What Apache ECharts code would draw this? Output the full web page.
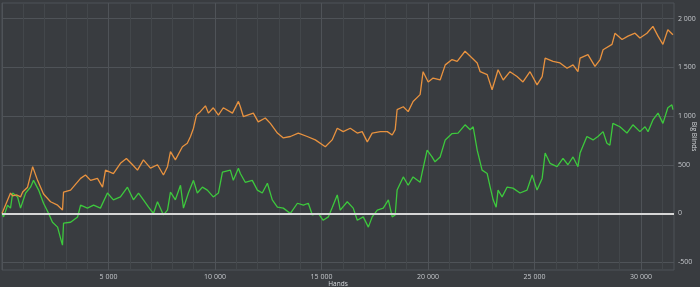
<!DOCTYPE html>
<html>
<head>
<meta charset="utf-8">
<script src="https://cdn.jsdelivr.net/npm/echarts@6/dist/echarts.min.js"></script>
<style>
html,body{margin:0;padding:0;background:#393c40;}
#c{width:700px;height:287px;}
</style>
</head>
<body>
<div id="c"></div>
<script>
// Orange series (hands, big blinds)
const orangeHands = [0,400,500,700,870,970,1200,1440,1670,1950,2280,2610,2840,2890,3220,3690,3920,4160,4480,4720,4860,5230,5560,5840,6130,6360,6640,6970,7300,7580,7770,7910,8140,8470,8700,8850,8990,9130,9310,9550,9690,9920,10160,10390,10820,11100,11190,11330,11800,12030,12360,12600,12930,13210,13540,13910,14330,14710,15180,15500,15740,16020,16350,16680,16910,17150,17380,17760,18090,18320,18460,18550,18840,19070,19300,19630,19770,20010,20240,20570,20810,21130,21370,21740,22070,22310,22450,22780,23010,23290,23530,23850,24180,24460,24790,25120,25360,25500,25870,26200,26530,26810,27040,27140,27510,27840,28080,28220,28640,28780,29110,29390,29720,29950,30280,30560,30800,31030,31260,31500];
const orangeBB = [0,210,180,190,170,220,270,480,340,200,120,85,35,220,240,360,395,340,360,270,445,410,515,565,500,445,550,465,500,395,480,635,550,685,720,790,875,1010,1045,1105,1030,1085,1010,1085,1030,1150,1095,995,1030,940,980,925,825,775,790,825,790,755,685,755,875,840,875,825,840,735,825,840,840,805,860,1065,1095,1045,1150,1220,1455,1350,1390,1370,1525,1580,1560,1665,1595,1545,1455,1425,1270,1475,1370,1455,1405,1350,1455,1320,1405,1595,1560,1545,1490,1525,1455,1595,1630,1510,1580,1680,1735,1850,1785,1820,1850,1800,1850,1920,1820,1735,1885,1835];

// Green series (hands, big blinds)
const greenHands = [0,75,260,400,500,730,870,1110,1340,1480,1720,1950,2190,2370,2610,2750,2840,2890,3220,3550,3690,4010,4300,4620,4950,5230,5560,5890,6170,6410,6640,6880,7110,7300,7580,7770,7910,8140,8380,8520,8750,8990,9170,9410,9640,9920,10160,10350,10720,10860,11100,11190,11420,11750,11990,12220,12460,12690,12930,13210,13540,13870,14150,14380,14570,14850,15080,15320,15510,15740,15880,16210,16490,16680,16960,17200,17380,17620,17900,18140,18320,18460,18550,18840,19070,19300,19630,19730,19960,20190,20330,20570,20810,21130,21410,21740,21980,22120,22310,22540,22780,22920,23060,23200,23290,23480,23710,23990,24320,24650,24890,25120,25360,25500,25730,26060,26340,26570,26810,27040,27140,27460,27750,27980,28220,28400,28540,28680,29010,29340,29620,29950,30190,30330,30560,30800,31030,31260,31450,31500];
const greenBB = [0,-35,85,55,210,170,55,210,270,340,240,105,0,-90,-140,-255,-325,-100,-90,-35,85,55,85,55,210,140,170,270,140,210,140,65,0,120,-15,35,220,140,290,55,210,340,210,270,240,170,210,425,445,340,465,410,320,340,240,210,310,140,65,55,0,105,85,105,-15,0,-70,-35,65,190,35,120,55,-70,-35,-140,-35,35,55,140,-35,-15,240,375,290,375,320,425,650,580,530,580,755,820,825,910,860,890,650,445,410,270,140,65,240,170,270,260,210,240,395,240,360,620,515,480,565,500,580,480,620,790,755,790,840,720,700,925,890,825,910,840,890,840,960,1030,925,1085,1115,1065];

// Axis settings
const xMin = 0, xMax = 31550, xStep = 1000, xLabelStep = 5000;
const yMin = -580, yMax = 2160, yStep = 20, yLabelStep = 500, yMinorStep = 250;

const MAJOR = '#4f5358', MINOR = '#43474b', NONE = 'rgba(0,0,0,0)';

function fmt(v){
  const s = String(Math.abs(v));
  const t = s.length > 3 ? s.slice(0, s.length-3) + ' ' + s.slice(s.length-3) : s;
  return (v < 0 ? '-' : '') + t;
}

const xColors = [];
for (let v = xMin; v <= xMax; v += xStep) xColors.push(v % xLabelStep === 0 ? MAJOR : MINOR);
xColors.push(MINOR);

const yColors = [];
for (let v = yMin; v <= yMax; v += yStep) {
  if (v % yLabelStep === 0) yColors.push(MAJOR);
  else if (v % yMinorStep === 0) yColors.push(MINOR);
  else yColors.push(NONE);
}

const chart = echarts.init(document.getElementById('c'), null, {renderer:'canvas'});
const textStyle = {color:'#c4c7cb', fontSize:7, fontFamily:'Open Sans'};
chart.setOption({
  backgroundColor:'#393c40',
  animation:false,
  grid:{left:2, right:26, top:3, bottom:17, show:true, borderColor:'#4f5358', borderWidth:1,
    backgroundColor:'transparent', containLabel:false, outerBoundsMode:'none'},
  xAxis:{
    type:'value', min:xMin, max:xMax, interval:xStep,
    name:'Hands', nameLocation:'middle', nameGap:14, nameMoveOverlap:false,
    nameTextStyle:Object.assign({}, textStyle, {fontSize:6.5, color:'#d6d9dc', verticalAlign:'middle', align:'center'}),
    axisLine:{show:false}, axisTick:{show:false},
    axisLabel:Object.assign({}, textStyle, {margin:3, showMaxLabel:false, showMinLabel:false,
      formatter:v => (v % xLabelStep === 0 && v > 0) ? fmt(v) : ''}),
    splitLine:{show:true, lineStyle:{color:xColors, width:1}}
  },
  yAxis:{
    type:'value', position:'right', min:yMin, max:yMax, interval:yStep,
    name:'Big Blinds', nameLocation:'middle', nameGap:20, nameRotate:-90, nameMoveOverlap:false,
    nameTextStyle:Object.assign({}, textStyle, {fontSize:6.5, color:'#d6d9dc', align:'center', verticalAlign:'middle'}),
    axisLine:{show:false}, axisTick:{show:false},
    axisLabel:Object.assign({}, textStyle, {margin:4, showMaxLabel:false, showMinLabel:false,
      formatter:v => (v % yLabelStep === 0) ? fmt(v) : ''}),
    splitLine:{show:true, lineStyle:{color:yColors, width:1}}
  },
  series:[
    {
      type:'line', name:'green', showSymbol:false, z:3,
      lineStyle:{color:'#3dc83d', width:1.3},
      data: greenHands.map((h,i)=>[h, greenBB[i]]),
      markLine:{silent:true, symbol:'none', label:{show:false},
        lineStyle:{color:'#d6d6d6', width:2, type:'solid'},
        data:[{yAxis:0}]}
    },
    {
      type:'line', name:'orange', showSymbol:false, z:4,
      lineStyle:{color:'#e8923f', width:1.3},
      data: orangeHands.map((h,i)=>[h, orangeBB[i]])
    }
  ]
});
</script>
</body>
</html>
